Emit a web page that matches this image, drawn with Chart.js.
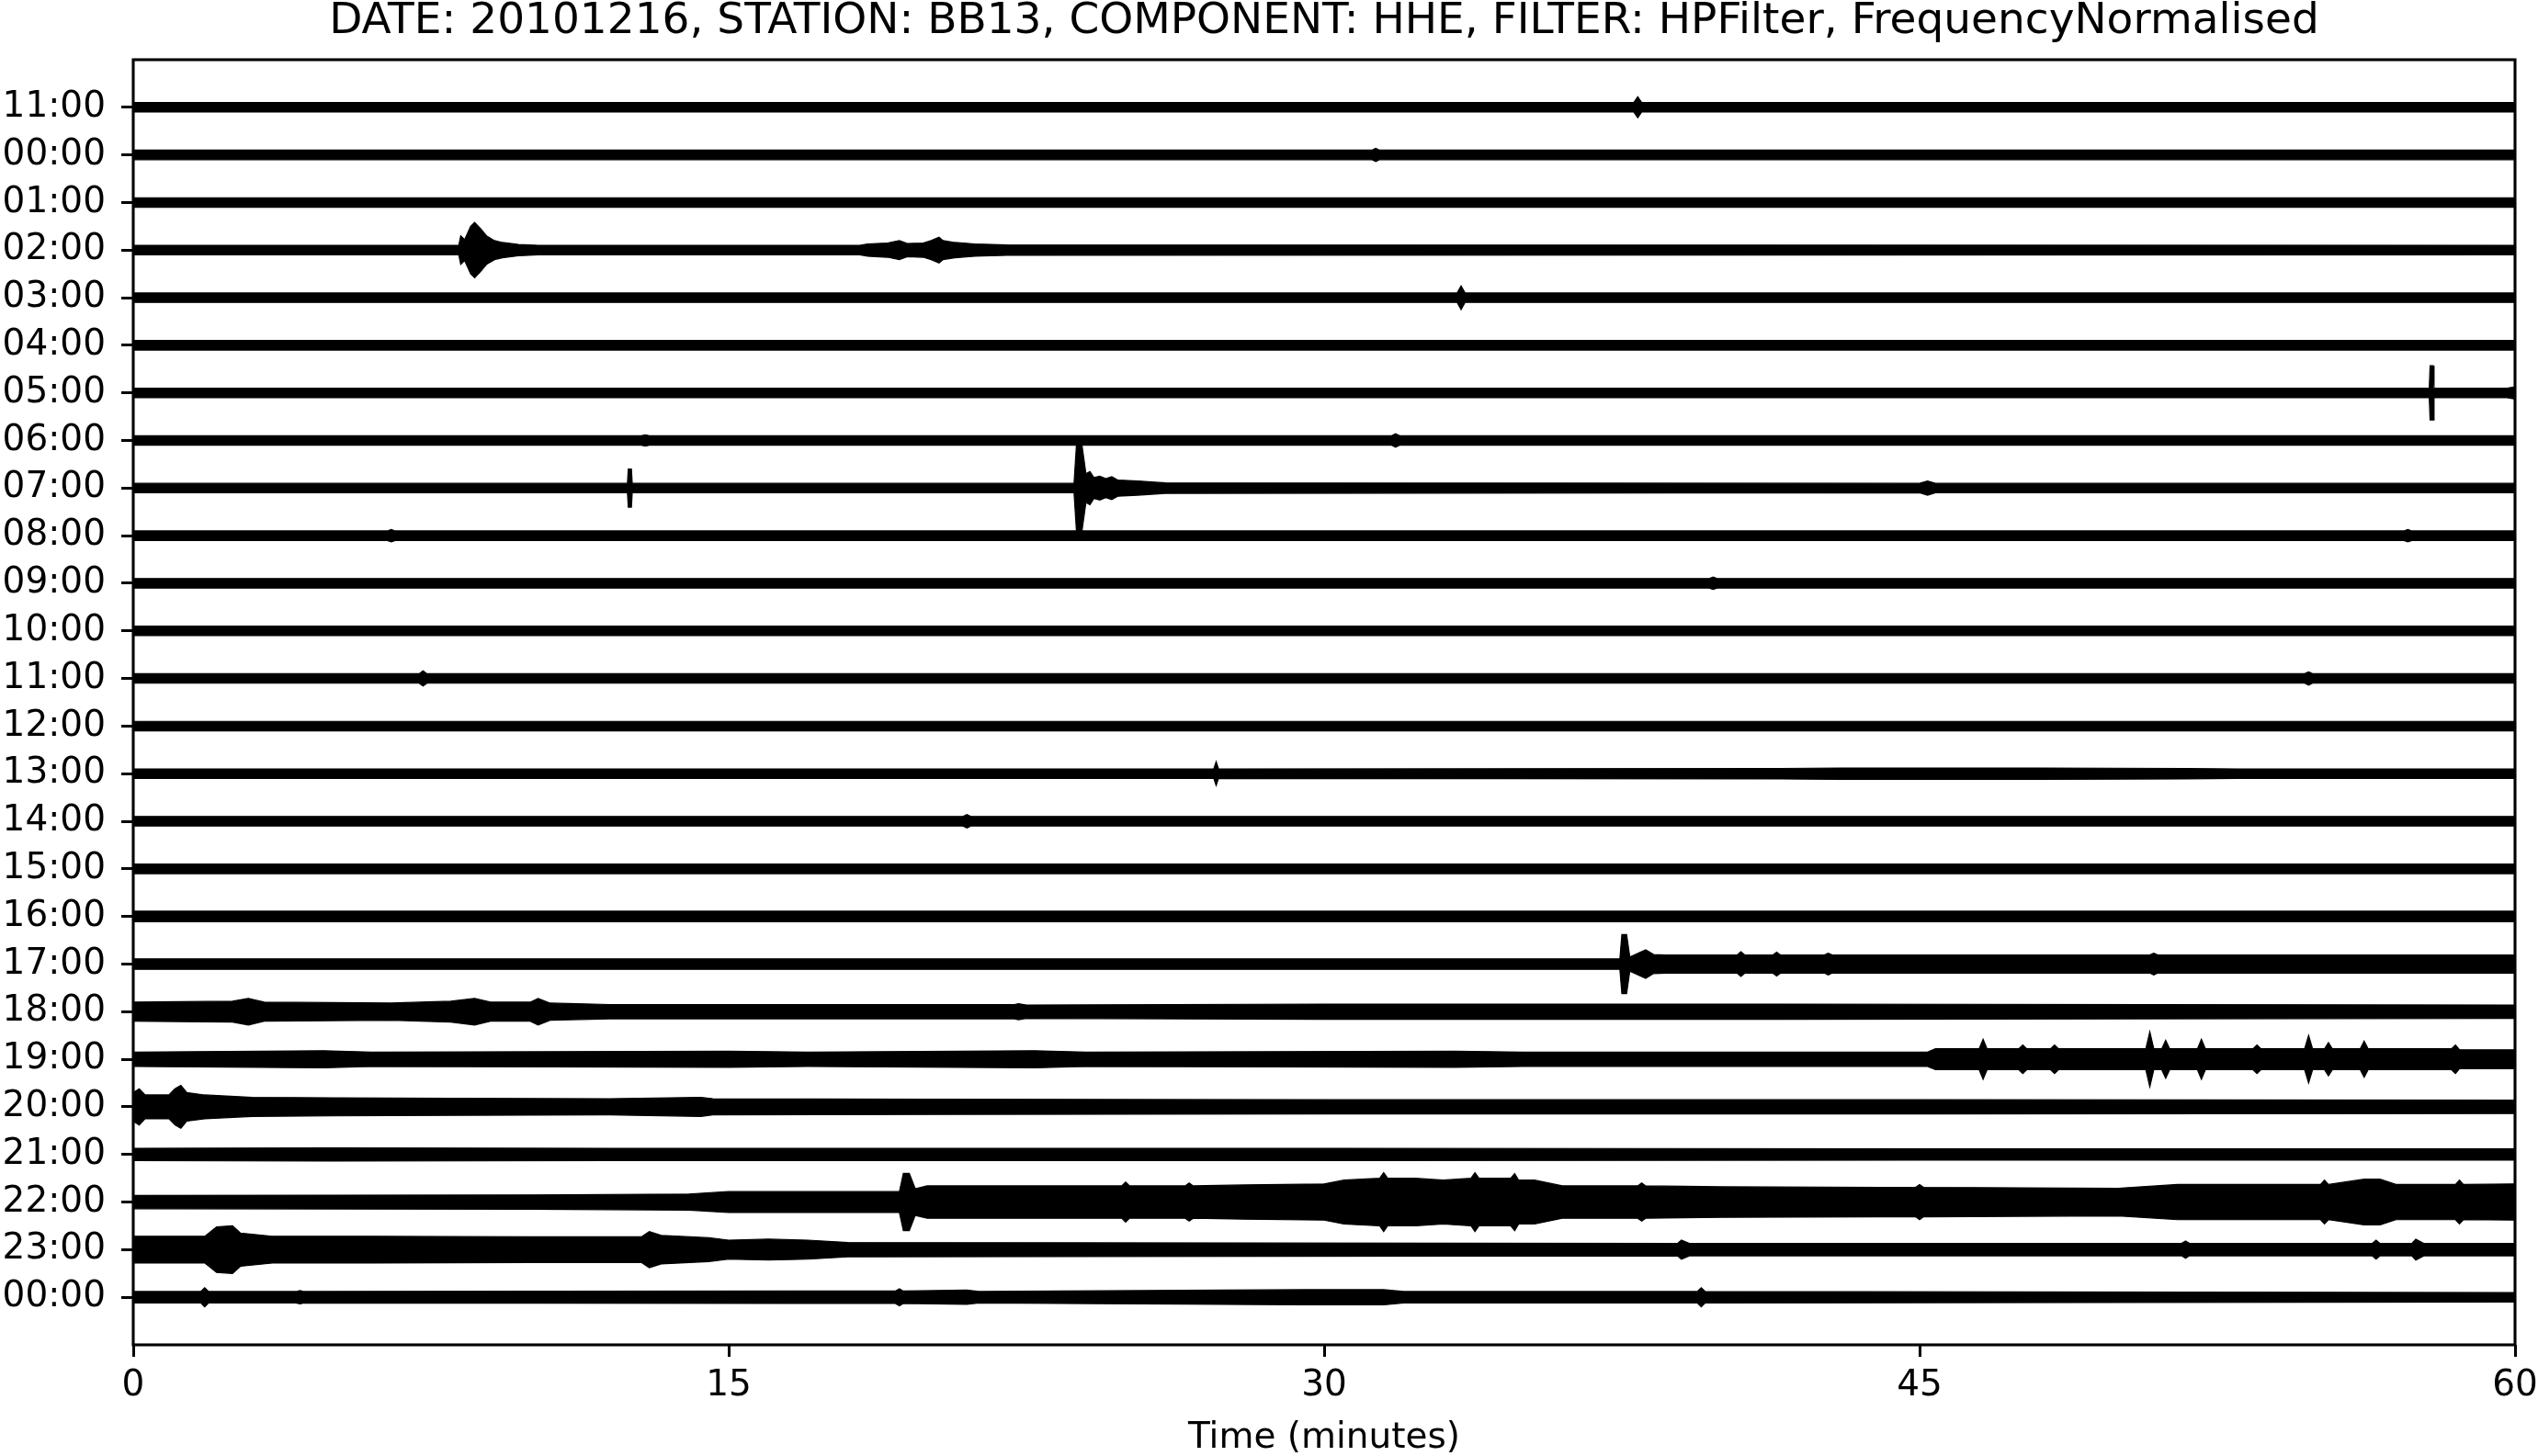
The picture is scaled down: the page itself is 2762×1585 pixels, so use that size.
<!DOCTYPE html>
<html>
<head>
<meta charset="utf-8">
<title>Helicorder BB13 HHE</title>
<script src="https://cdn.jsdelivr.net/npm/chart.js@4.4.1/dist/chart.umd.min.js"></script>
<style>
  html, body { margin: 0; padding: 0; background: #fff; }
  canvas { display: block; }
</style>
</head>
<body>
<canvas id="heli" width="2762" height="1585"></canvas>
<script>
/* ── Helicorder, one trace per hour ───────────────── */

const TITLE = 'DATE: 20101216, STATION: BB13, COMPONENT: HHE, FILTER: HPFilter, FrequencyNormalised';

// row labels, top to bottom
const rowLabels = [
  '11:00', '00:00', '01:00', '02:00', '03:00', '04:00', '05:00', '06:00', '07:00',
  '08:00', '09:00', '10:00', '11:00', '12:00', '13:00', '14:00', '15:00', '16:00',
  '17:00', '18:00', '19:00', '20:00', '21:00', '22:00', '23:00', '00:00',
];

const xTicks = [0, 15, 30, 45, 60];

// envelopes: [minute, half amplitude in row units]
const trPrev11 = [[0, 0.1], [37.8, 0.1], [37.9, 0.22], [38.0, 0.1], [60, 0.1]];
const tr00 = [[0, 0.1], [31.2, 0.1], [31.3, 0.14], [31.4, 0.1], [60, 0.1]];
const tr01 = [[0, 0.1], [60, 0.1]];
const tr02 = [[0, 0.1], [8.2, 0.1], [8.25, 0.3], [8.35, 0.22], [8.5, 0.5], [8.6, 0.58], [8.75, 0.45],
  [8.9, 0.3], [9.1, 0.2], [9.3, 0.16], [9.7, 0.12], [10.2, 0.1], [18.3, 0.1], [18.5, 0.13], [19.0, 0.15],
  [19.3, 0.2], [19.5, 0.14], [19.9, 0.15], [20.1, 0.2], [20.3, 0.27], [20.4, 0.2], [20.7, 0.16],
  [21.2, 0.13], [22.0, 0.11], [60, 0.1]];
const tr03 = [[0, 0.1], [33.35, 0.1], [33.45, 0.25], [33.55, 0.1], [60, 0.1]];
const tr04 = [[0, 0.1], [60, 0.1]];
const tr05 = [[0, 0.1], [57.84, 0.1], [57.86, 0.57], [57.94, 0.57], [57.96, 0.1], [59.8, 0.1], [60, 0.13]];
const tr06 = [[0, 0.1], [12.8, 0.1], [12.9, 0.12], [13.0, 0.1], [31.7, 0.1], [31.8, 0.14], [31.9, 0.1], [60, 0.1]];
const tr07 = [[0, 0.1], [12.45, 0.1], [12.47, 0.4], [12.55, 0.4], [12.57, 0.1], [23.7, 0.1], [23.76, 0.9],
  [23.9, 0.9], [24.0, 0.3], [24.1, 0.35], [24.2, 0.22], [24.35, 0.25], [24.5, 0.2], [24.65, 0.24],
  [24.8, 0.17], [25.3, 0.15], [26.0, 0.11], [45.0, 0.1], [45.2, 0.15], [45.4, 0.1], [60, 0.1]];
const tr08 = [[0, 0.1], [6.4, 0.1], [6.5, 0.13], [6.6, 0.1], [57.2, 0.1], [57.3, 0.13], [57.4, 0.1], [60, 0.1]];
const tr09 = [[0, 0.1], [39.7, 0.1], [39.8, 0.13], [39.9, 0.1], [60, 0.1]];
const tr10 = [[0, 0.1], [60, 0.1]];
const tr11 = [[0, 0.1], [7.2, 0.1], [7.3, 0.16], [7.4, 0.1], [54.7, 0.1], [54.8, 0.14], [54.9, 0.1], [60, 0.1]];
const tr12 = [[0, 0.1], [60, 0.1]];
const tr13 = [[0, 0.1], [27.22, 0.1], [27.28, 0.25], [27.34, 0.1], [41.5, 0.11], [43, 0.12], [48, 0.12],
  [51.7, 0.11], [53, 0.1], [60, 0.1]];
const tr14 = [[0, 0.1], [20.9, 0.1], [21.0, 0.14], [21.1, 0.1], [60, 0.1]];
const tr15 = [[0, 0.1], [60, 0.1]];
const tr16 = [[0, 0.11], [60, 0.11]];
const tr17 = [[0, 0.11], [37.45, 0.11], [37.5, 0.62], [37.62, 0.62], [37.7, 0.15], [38.1, 0.3], [38.3, 0.2],
  [38.6, 0.19], [40.4, 0.19], [40.5, 0.26], [40.6, 0.19], [41.3, 0.19], [41.4, 0.25], [41.5, 0.19],
  [42.6, 0.19], [42.7, 0.23], [42.8, 0.19], [50.8, 0.19], [50.9, 0.23], [51.0, 0.19], [60, 0.19]];
const tr18 = [[0, 0.2], [2.5, 0.22], [2.9, 0.28], [3.3, 0.2], [6.5, 0.18], [8.0, 0.22], [8.6, 0.28],
  [9.0, 0.2], [10.0, 0.2], [10.2, 0.28], [10.5, 0.18], [12, 0.15], [22.2, 0.15], [22.3, 0.17],
  [22.5, 0.14], [30, 0.16], [41.5, 0.16], [60, 0.14]];
const tr19 = [[0, 0.15], [4.8, 0.18], [6, 0.15], [15, 0.17], [17, 0.15], [22.7, 0.18], [24, 0.15],
  [33.3, 0.17], [35, 0.15], [45.2, 0.15], [45.4, 0.22], [46.5, 0.22], [46.6, 0.42], [46.7, 0.22],
  [47.5, 0.22], [47.6, 0.3], [47.7, 0.22], [48.3, 0.22], [48.4, 0.3], [48.5, 0.22], [50.7, 0.22],
  [50.8, 0.58], [50.9, 0.22], [51.1, 0.22], [51.2, 0.4], [51.3, 0.22], [52.0, 0.22], [52.1, 0.42],
  [52.2, 0.22], [53.4, 0.22], [53.5, 0.3], [53.6, 0.22], [54.7, 0.22], [54.8, 0.5], [54.9, 0.22],
  [55.2, 0.22], [55.3, 0.35], [55.4, 0.22], [56.1, 0.22], [56.2, 0.38], [56.3, 0.22], [58.4, 0.22],
  [58.5, 0.3], [58.6, 0.2], [60, 0.2]];
const tr20 = [[0, 0.3], [0.15, 0.38], [0.3, 0.25], [0.9, 0.25], [1.05, 0.38], [1.2, 0.45], [1.35, 0.3],
  [1.8, 0.25], [3, 0.2], [5, 0.19], [8, 0.18], [12, 0.17], [14.3, 0.2], [14.6, 0.17], [20, 0.16],
  [30, 0.15], [45, 0.15], [60, 0.14]];
const tr21 = [[0, 0.13], [5.0, 0.14], [12, 0.13], [30, 0.13], [45, 0.12], [60, 0.12]];
const tr22 = [[0, 0.14], [10, 0.15], [14, 0.17], [15, 0.22], [19.3, 0.22], [19.4, 0.6], [19.55, 0.6],
  [19.7, 0.28], [20, 0.34], [22, 0.34], [24.9, 0.34], [25.0, 0.42], [25.1, 0.34], [26.5, 0.34], [26.6, 0.4],
  [26.7, 0.34], [28, 0.36], [30, 0.38], [30.5, 0.46], [31.4, 0.5], [31.5, 0.62], [31.6, 0.5],
  [32.3, 0.5], [33, 0.46], [33.7, 0.5], [33.8, 0.62], [33.9, 0.5], [34.7, 0.5], [34.8, 0.6],
  [34.9, 0.46], [35.3, 0.46], [36, 0.34], [37.9, 0.34], [38.0, 0.4], [38.1, 0.34], [40, 0.32], [44, 0.31],
  [44.9, 0.31], [45.0, 0.37], [45.1, 0.31], [50, 0.29], [51.5, 0.37], [54, 0.37], [55.1, 0.37],
  [55.2, 0.46], [55.3, 0.37], [56.2, 0.48], [56.6, 0.48], [57, 0.37], [58.5, 0.37], [58.6, 0.46],
  [58.7, 0.37], [60, 0.38]];
const tr23 = [[0, 0.28], [1.8, 0.28], [2.1, 0.48], [2.5, 0.5], [2.7, 0.35], [3.5, 0.28], [6, 0.28],
  [10, 0.27], [12.8, 0.27], [13.0, 0.38], [13.3, 0.3], [14.5, 0.25], [15, 0.2], [16, 0.22], [17, 0.2],
  [18, 0.15], [38.9, 0.13], [39.0, 0.2], [39.2, 0.13], [51.6, 0.13], [51.7, 0.18], [51.8, 0.13],
  [56.4, 0.13], [56.5, 0.2], [56.6, 0.13], [57.4, 0.13], [57.5, 0.22], [57.7, 0.13], [60, 0.13]];
const trNext00 = [[0, 0.12], [1.7, 0.12], [1.8, 0.2], [1.9, 0.12], [4.1, 0.12], [4.2, 0.14], [4.3, 0.12],
  [16.5, 0.13], [19.2, 0.13], [19.3, 0.18], [19.4, 0.13], [21, 0.15], [21.3, 0.12], [29.5, 0.16],
  [31.5, 0.16], [32, 0.12], [39.4, 0.12], [39.5, 0.2], [39.6, 0.12], [60, 0.1]];

const traces = [
  trPrev11, tr00, tr01, tr02, tr03, tr04, tr05, tr06, tr07, tr08, tr09, tr10, tr11,
  tr12, tr13, tr14, tr15, tr16, tr17, tr18, tr19, tr20, tr21, tr22, tr23, trNext00,
];

// ── Datasets: upper + lower edge per row, filled between ──
const FONT = 'DejaVu Sans';
const datasets = [];
traces.forEach((tr, row) => {
  datasets.push({
    data: tr.map(([t, a]) => ({ x: t, y: row - a })),
    borderColor: '#000', borderWidth: 1.2, pointRadius: 0, fill: false,
  });
  datasets.push({
    data: tr.map(([t, a]) => ({ x: t, y: row + a })),
    borderColor: '#000', borderWidth: 1.2, pointRadius: 0,
    backgroundColor: '#000', fill: '-1',
  });
});

// ── Frame around plot area ──
const frame = {
  id: 'frame',
  afterDatasetsDraw(chart) {
    const { ctx, chartArea: a } = chart;
    ctx.save();
    ctx.strokeStyle = '#000';
    ctx.lineWidth = 3.1;
    ctx.strokeRect(a.left, a.top, a.right - a.left, a.bottom - a.top);
    ctx.restore();
  },
};

Chart.defaults.color = '#000';
Chart.defaults.font.family = FONT;

new Chart(document.getElementById('heli'), {
  type: 'line',
  data: { datasets },
  plugins: [frame],
  options: {
    responsive: false,
    animation: false,
    events: [],
    devicePixelRatio: 1,
    layout: { padding: { top: 0, right: 25, bottom: 0, left: 0 } },
    elements: { line: { tension: 0 } },
    plugins: {
      legend: { display: false },
      tooltip: { enabled: false },
      title: {
        display: true,
        text: TITLE,
        fullSize: false,
        color: '#000',
        font: { size: 47, weight: 'normal', lineHeight: 1 },
        padding: { top: 0, bottom: 18 },
      },
    },
    scales: {
      x: {
        type: 'linear',
        min: 0,
        max: 60,
        afterBuildTicks: (s) => { s.ticks = xTicks.map(v => ({ value: v })); },
        afterFit: (s) => { s.height = 121; s.paddingLeft = 0; s.paddingRight = 0; },
        border: { display: false },
        grid: { drawOnChartArea: false, tickLength: 13, tickWidth: 3, color: '#000' },
        ticks: { font: { size: 39 }, color: '#000', padding: 8, maxRotation: 0 },
        title: {
          display: true,
          text: 'Time (minutes)',
          color: '#000',
          font: { size: 39, lineHeight: 1.0 },
          padding: { top: 0, bottom: 0 },
        },
      },
      y: {
        type: 'linear',
        reverse: true,
        min: -1,
        max: 26,
        afterBuildTicks: (s) => { s.ticks = rowLabels.map((_, i) => ({ value: i })); },
        afterFit: (s) => { s.width = 145; s.paddingTop = 0; s.paddingBottom = 0; },
        border: { display: false },
        grid: { drawOnChartArea: false, tickLength: 13, tickWidth: 3, color: '#000' },
        ticks: {
          autoSkip: false,
          font: { size: 39 },
          color: '#000',
          padding: 17,
          callback: (v) => rowLabels[v],
        },
      },
    },
  },
});
</script>
</body>
</html>
